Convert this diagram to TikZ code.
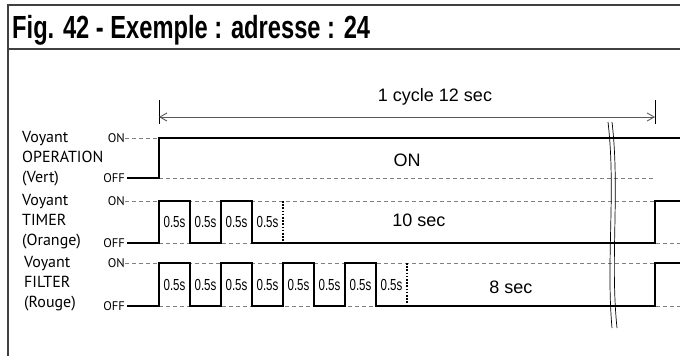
\documentclass[tikz,border=0pt]{standalone}
\usepackage{fontspec}
\setmainfont{Liberation Sans}
\newfontfamily\legende{PT Sans}
\usetikzlibrary{arrows.meta}

\tikzset{
  cadre/.style={black!75, line width=1.5pt},
  signal/.style={line width=2.2pt},
  niveau/.style={gray, line width=0.9pt, dash pattern=on 4pt off 3pt},
  pointille/.style={line width=1.6pt, dash pattern=on 1.6pt off 1.6pt},
  repere/.style={font=\legende\fontsize{12.5}{12.5}\selectfont, anchor=east, inner sep=0pt},
  voyant/.style={font=\legende\fontsize{16}{20}\selectfont, align=left, anchor=west, inner sep=0pt},
  duree/.style={font=\fontsize{16}{16}\selectfont, inner sep=0pt},
  texte/.style={font=\fontsize{18}{18}\selectfont, inner sep=0pt},
}
\newcommand{\demi}{\scalebox{0.72}[1]{0.5s}}

\begin{document}
\begin{tikzpicture}[x=1pt, y=-1pt]
    \useasboundingbox (0,0) rectangle (680,356);

    % Cadre et titre
    \draw[cadre] (8,356) -- (8,5) -- (680,5);
    \draw[cadre] (8,49) -- (680,49);
    \node[anchor=base west, inner sep=0pt, font=\bfseries\fontsize{32}{32}\selectfont] (titre) at (12,38)
        {\scalebox{0.74}[1]{Fig. 42 - Exemple : adresse : 24}};

    % Cycle
    \coordinate (debut) at (159,117);
    \coordinate (fin) at (655,117);
    \draw[line width=0.9pt] (debut) ++(0,-17) -- ++(0,24);
    \draw[line width=0.9pt] (fin) ++(0,-17) -- ++(0,24);
    \draw[gray!70!black, line width=0.9pt, {Straight Barb[length=7pt, width=8pt]}-{Straight Barb[length=7pt, width=8pt]}] (debut) -- (fin);
    \node[texte] (cycle) at (435,97) {1 cycle 12 sec};

    % Voyant OPERATION
    \node[voyant] (operation) at (22,159) {Voyant\\OPERATION\\(Vert)};
    \node[repere] (on1) at (125,138) {ON};
    \node[repere] (off1) at (125,178) {OFF};
    \draw[niveau] (on1.east) -- (159,138);
    \draw[niveau] (159,178) -- (655,178);
    \draw[signal] (off1.east) ++(2,0) -- (159,178) -- (159,138) -- (680,138);
    \node[texte] (marche) at (407,160) {ON};

    % Voyant TIMER
    \node[voyant] (timer) at (22,222) {Voyant\\TIMER\\(Orange)};
    \node[repere] (on2) at (125,201) {ON};
    \node[repere] (off2) at (125,243) {OFF};
    \draw[niveau] (on2.east) -- (655,201);
    \draw[niveau] (159,243) -- (680,243);
    \draw[signal] (off2.east) ++(2,0) -- (159,243)
        \foreach \k in {1,2} { -- ++(0,-42) -- ++(31,0) -- ++(0,42) -- ++(31,0) }
        -- (655,243) -- (655,201) -- (680,201);
    \draw[pointille] (283,201) -- (283,243);
    \foreach \k in {0,...,3}
        \node[duree] (t\k) at (174.5+31*\k,222) {\demi};
    \node[texte] (dix) at (419,220) {10 sec};

    % Voyant FILTER
    \node[voyant] (filter) at (24,284) {Voyant\\FILTER\\(Rouge)};
    \node[repere] (on3) at (125,263) {ON};
    \node[repere] (off3) at (125,306) {OFF};
    \draw[niveau] (on3.east) -- (655,263);
    \draw[niveau] (159,306) -- (680,306);
    \draw[signal] (off3.east) ++(2,0) -- (159,306)
        \foreach \k in {1,...,4} { -- ++(0,-43) -- ++(31,0) -- ++(0,43) -- ++(31,0) }
        -- (655,306) -- (655,263) -- (680,263);
    \draw[pointille] (407,263) -- (407,306);
    \foreach \k in {0,...,7}
        \node[duree] (f\k) at (174.5+31*\k,285) {\demi};
    \node[texte] (huit) at (511,287) {8 sec};

    % Coupure
    \draw[line width=0.7pt] (608,122) .. controls (616,190) and (606,260) .. (612,328);
    \draw[line width=0.7pt] (612,122) .. controls (620,190) and (610,260) .. (617,328);
\end{tikzpicture}
\end{document}
